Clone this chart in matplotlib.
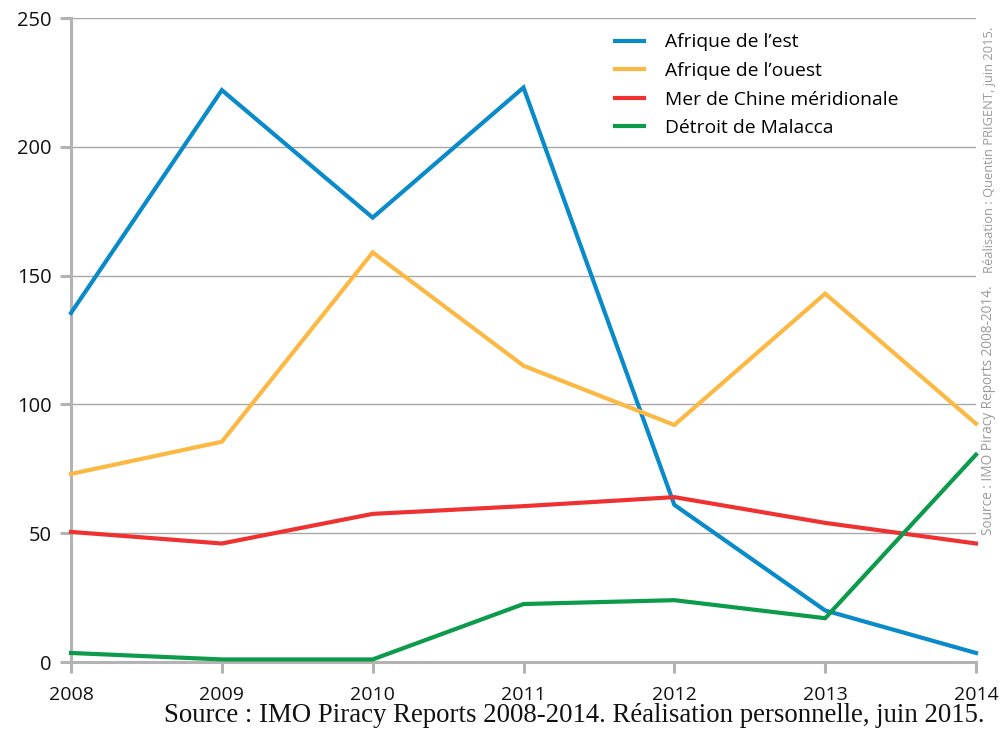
import matplotlib
matplotlib.use("Agg")
import matplotlib.pyplot as plt

years = [2008, 2009, 2010, 2011, 2012, 2013, 2014]
afrique_est = [135.5, 222, 172.5, 223, 61, 20, 3.5]
afrique_ouest = [73, 85.5, 159, 115, 92, 143, 92.5]
mer_chine = [50.5, 46, 57.5, 60.5, 64, 54, 46]
malacca = [3.5, 1, 1, 22.5, 24, 17, 80.5]

series_labels = ["Afrique de l\u2019est", "Afrique de l\u2019ouest",
                 "Mer de Chine m\u00e9ridionale", "D\u00e9troit de Malacca"]
colors = ["#0a8bc9", "#fbb944", "#ee3231", "#0b9b4b"]
yticks = [0, 50, 100, 150, 200, 250]

fig = plt.figure(figsize=(10.02, 7.33), dpi=100)
ax = fig.add_axes([71/1002, 1-662/733, (976-71)/1002, (662-18)/733])

for vals, lab, c in zip([afrique_est, afrique_ouest, mer_chine, malacca], series_labels, colors):
    ax.plot(years, vals, color=c, lw=3.0, label=lab, clip_on=False, zorder=3,
            solid_joinstyle="miter")

ax.set_xlim(2008, 2014)
ax.set_ylim(0, 250)
ax.set_xticks(years)
ax.set_yticks(yticks)
ax.set_xticklabels([str(y) for y in years], fontfamily="Open Sans", fontsize=14)
ax.set_yticklabels([str(v) for v in yticks], fontfamily="Open Sans", fontsize=14.5)

for v in yticks[1:]:
    ax.axhline(v, color="#a8a8a8", lw=1.0, zorder=1)

for s in ["top", "right"]:
    ax.spines[s].set_visible(False)
for s in ["left", "bottom"]:
    ax.spines[s].set_color("#b3b3b3")
    ax.spines[s].set_linewidth(2.2)
ax.tick_params(axis="both", color="#b3b3b3", width=2.2, length=8)
ax.tick_params(axis="y", pad=6, labelcolor="#111111")
ax.tick_params(axis="x", pad=9, labelcolor="#111111")

leg = ax.legend(loc="upper left", bbox_to_anchor=(598/1002, 1-16/733),
                bbox_transform=fig.transFigure, frameon=False,
                prop={"family": "Open Sans", "size": 13.9},
                handlelength=1.5, handletextpad=1.05, labelspacing=0.55)

fig.text(985/1002, 1-715/733,
         "Source : IMO Piracy Reports 2008-2014. R\u00e9alisation personnelle, juin 2015.",
         ha="right", va="center", fontfamily="Liberation Serif", fontsize=19.3, color="#111111")

fig.text(989/1002, 1-150/733, "R\u00e9alisation : Quentin PRIGENT, juin 2015.",
         rotation=90, ha="center", va="center", fontfamily="Open Sans", fontsize=9.3,
         color="#9a9a9a")
fig.text(989/1002, 1-410/733, "Source : IMO Piracy Reports 2008-2014.",
         rotation=90, ha="center", va="center", fontfamily="Open Sans", fontsize=9.8,
         color="#9a9a9a")

fig.savefig("out.png", dpi=100)
